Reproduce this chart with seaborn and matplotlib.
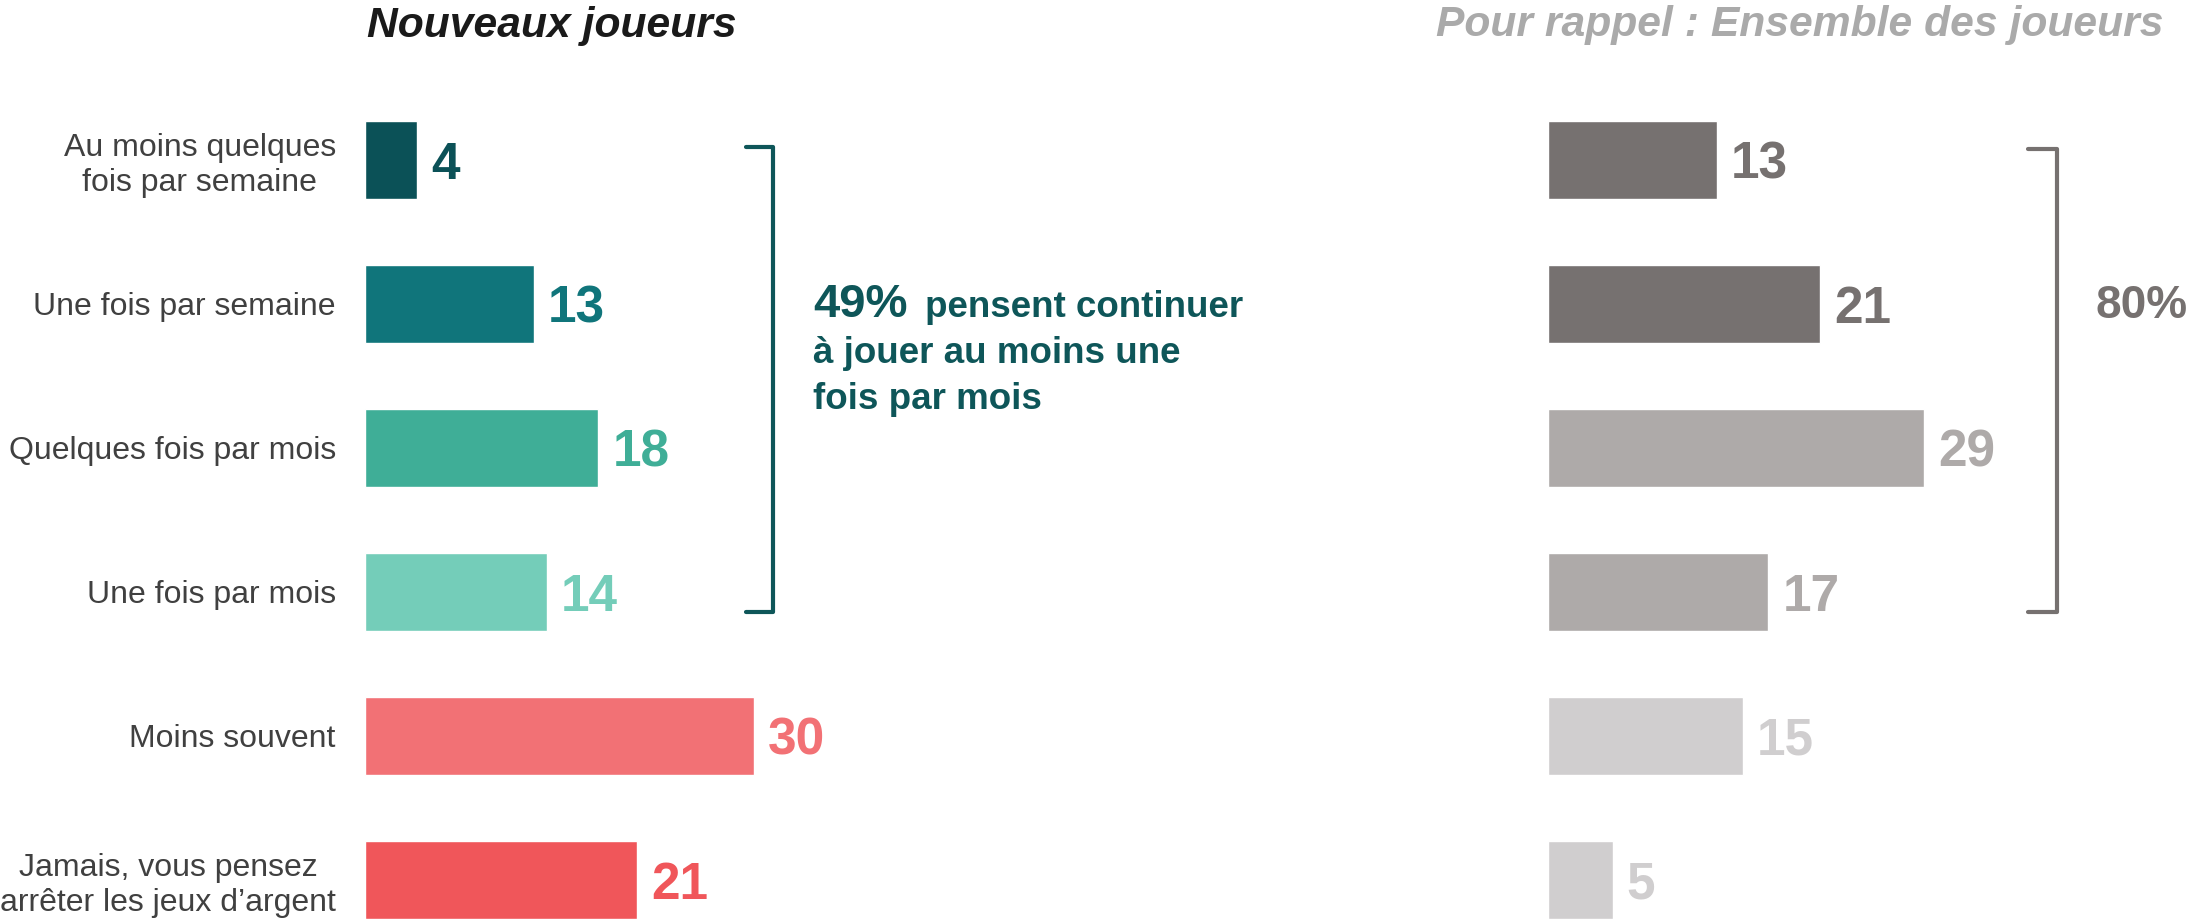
import matplotlib.pyplot as plt
import seaborn as sns

# data
categories = ["Au moins quelques\nfois par semaine", "Une fois par semaine",
              "Quelques fois par mois", "Une fois par mois", "Moins souvent",
              "Jamais, vous pensez\narrêter les jeux d\u2019argent"]
nouveaux = [4, 13, 18, 14, 30, 21]
ensemble = [13, 21, 29, 17, 15, 5]

nouveaux_colors = ["#0b5157", "#10757b", "#3fae97", "#74cdb9", "#f27175", "#f0565a"]
ensemble_colors = ["#767170", "#767170", "#aeaaa9", "#aeaaa9", "#d0cecf", "#d0cecf"]

sns.set_style("white")
plt.rcParams['font.family'] = ['Liberation Sans', 'DejaVu Sans']

W, H = 2197, 919
PX = 12.97  # pixels per percentage point
fig = plt.figure(figsize=(W / 100, H / 100), dpi=100)

ax1 = fig.add_axes([365 / W, 0, 1100 / W, 1])
ax2 = fig.add_axes([1548 / W, 0, 649 / W, 1])

for ax, vals, cols, width_px in [(ax1, nouveaux, nouveaux_colors, 1100),
                                 (ax2, ensemble, ensemble_colors, 649)]:
    sns.barplot(x=vals, y=categories, hue=categories, palette=cols, legend=False,
                saturation=1, width=0.54, orient='h', ax=ax)
    ax.set_xlim(0, width_px / PX)
    ax.set_ylim(5.271, -1.111)
    sns.despine(ax=ax, left=True, bottom=True)
    ax.set_xticks([])
    ax.set_xlabel('')
    ax.set_ylabel('')
    ax.patch.set_alpha(0)
    for i, v in enumerate(vals):
        ax.annotate(str(v), (v, i), xytext=(10, 0), textcoords='offset points',
                    va='center_baseline', ha='left', fontsize=37, fontweight='bold',
                    color=cols[i])

ax1.tick_params(axis='y', length=0, pad=21, labelsize=23, labelcolor='#404040')
for lbl in ax1.get_yticklabels():
    lbl.set_multialignment('center')
ax2.set_yticks([])

# brackets
ax1.plot([29.4, 31.46, 31.46, 29.4], [-0.09, -0.09, 3.14, 3.14], color='#0e5659',
         lw=3, solid_joinstyle='round', clip_on=False)
ax2.plot([37.0, 39.25, 39.25, 37.0], [-0.076, -0.076, 3.14, 3.14], color='#767170',
         lw=3, solid_joinstyle='round', clip_on=False)

teal = '#0e5659'
ax1.text(34.54, 1.087, '49%', fontsize=34, fontweight='bold', color=teal, va='baseline')
ax1.text(43.18, 1.087, 'pensent continuer', fontsize=26.5, fontweight='bold', color=teal, va='baseline')
ax1.text(34.54, 1.41, 'à jouer au moins une', fontsize=26.5, fontweight='bold', color=teal, va='baseline')
ax1.text(34.54, 1.729, 'fois par mois', fontsize=26.5, fontweight='bold', color=teal, va='baseline')

ax2.text(42.2, 0.98, '80%', fontsize=33, fontweight='bold', color='#767170',
         va='center_baseline', ha='left')

fig.text(367 / W, 1 - 37 / H, 'Nouveaux joueurs', fontsize=30.7, fontweight='bold',
         style='italic', color='#1a1a1a', va='baseline', ha='left')
fig.text(1436 / W, 1 - 36 / H, 'Pour rappel : Ensemble des joueurs', fontsize=30.7,
         fontweight='bold', style='italic', color='#aaaaaa', va='baseline', ha='left')

fig.savefig('out.png', dpi=100)
